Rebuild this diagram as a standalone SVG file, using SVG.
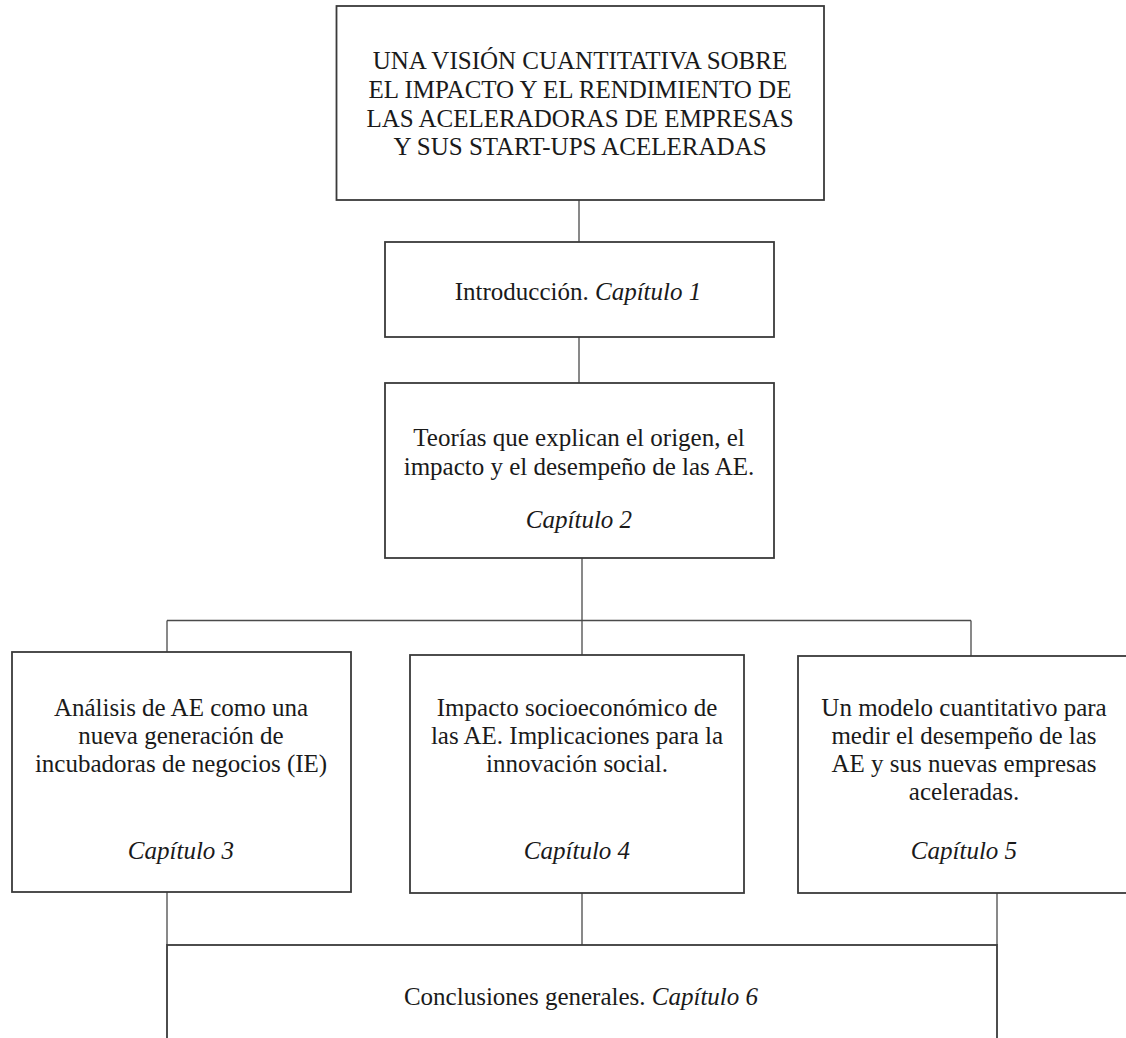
<svg xmlns="http://www.w3.org/2000/svg" width="1126" height="1038" viewBox="0 0 1126 1038">
  <style>
    .box { fill: #ffffff; stroke: #3a3a3a; stroke-width: 1.8; }
    .link { fill: none; stroke: #4a4a4a; stroke-width: 1.3; }
    .lbl { font-family: "Liberation Serif", "Times New Roman", serif; font-size: 25px; fill: #1a1a1a; text-anchor: middle; }
    .it { font-style: italic; }
  </style>
  <rect x="0" y="0" width="1126" height="1038" fill="#ffffff"/>

  <!-- connectors -->
  <g id="connectors">
    <line class="link" x1="579" y1="200" x2="579" y2="242"/>
    <line class="link" x1="579" y1="337" x2="579" y2="383"/>
    <line class="link" x1="582" y1="558" x2="582" y2="620.5"/>
    <line class="link" x1="167" y1="620.5" x2="971" y2="620.5"/>
    <line class="link" x1="167" y1="620.5" x2="167" y2="652"/>
    <line class="link" x1="582" y1="620.5" x2="582" y2="655"/>
    <line class="link" x1="971" y1="620.5" x2="971" y2="656"/>
    <line class="link" x1="167" y1="892" x2="167" y2="945"/>
    <line class="link" x1="582" y1="893" x2="582" y2="945"/>
    <line class="link" x1="997" y1="893" x2="997" y2="945"/>
  </g>

  <!-- title -->
  <g id="title">
    <rect class="box" x="336.5" y="6" width="487.5" height="194"/>
    <text class="lbl" x="580" y="69">UNA VISIÓN CUANTITATIVA SOBRE</text>
    <text class="lbl" x="580" y="98">EL IMPACTO Y EL RENDIMIENTO DE</text>
    <text class="lbl" x="580" y="127">LAS ACELERADORAS DE EMPRESAS</text>
    <text class="lbl" x="580" y="155">Y SUS START-UPS ACELERADAS</text>
  </g>

  <!-- chapter 1 -->
  <g id="cap1">
    <rect class="box" x="385" y="242" width="389" height="95"/>
    <text class="lbl" x="578" y="300">Introducción. <tspan class="it">Capítulo 1</tspan></text>
  </g>

  <!-- chapter 2 -->
  <g id="cap2">
    <rect class="box" x="385" y="383" width="389" height="175"/>
    <text class="lbl" x="579" y="446">Teorías que explican el origen, el</text>
    <text class="lbl" x="579" y="475">impacto y el desempeño de las AE.</text>
    <text class="lbl it" x="579" y="528">Capítulo 2</text>
  </g>

  <!-- chapter 3 -->
  <g id="cap3">
    <rect class="box" x="12" y="652" width="339" height="240"/>
    <text class="lbl" x="181" y="716">Análisis de AE como una</text>
    <text class="lbl" x="181" y="744">nueva generación de</text>
    <text class="lbl" x="181" y="772">incubadoras de negocios (IE)</text>
    <text class="lbl it" x="181" y="859">Capítulo 3</text>
  </g>

  <!-- chapter 4 -->
  <g id="cap4">
    <rect class="box" x="410" y="655" width="334" height="238"/>
    <text class="lbl" x="577" y="716">Impacto socioeconómico de</text>
    <text class="lbl" x="577" y="744">las AE. Implicaciones para la</text>
    <text class="lbl" x="577" y="772">innovación social.</text>
    <text class="lbl it" x="577" y="859">Capítulo 4</text>
  </g>

  <!-- chapter 5 -->
  <g id="cap5">
    <rect class="box" x="798" y="656" width="334" height="237"/>
    <text class="lbl" x="964" y="716">Un modelo cuantitativo para</text>
    <text class="lbl" x="964" y="744">medir el desempeño de las</text>
    <text class="lbl" x="964" y="772">AE y sus nuevas empresas</text>
    <text class="lbl" x="964" y="800">aceleradas.</text>
    <text class="lbl it" x="964" y="859">Capítulo 5</text>
  </g>

  <!-- chapter 6 -->
  <g id="cap6">
    <rect class="box" x="167" y="945" width="830" height="120"/>
    <text class="lbl" x="581" y="1005">Conclusiones generales. <tspan class="it">Capítulo 6</tspan></text>
  </g>
</svg>
